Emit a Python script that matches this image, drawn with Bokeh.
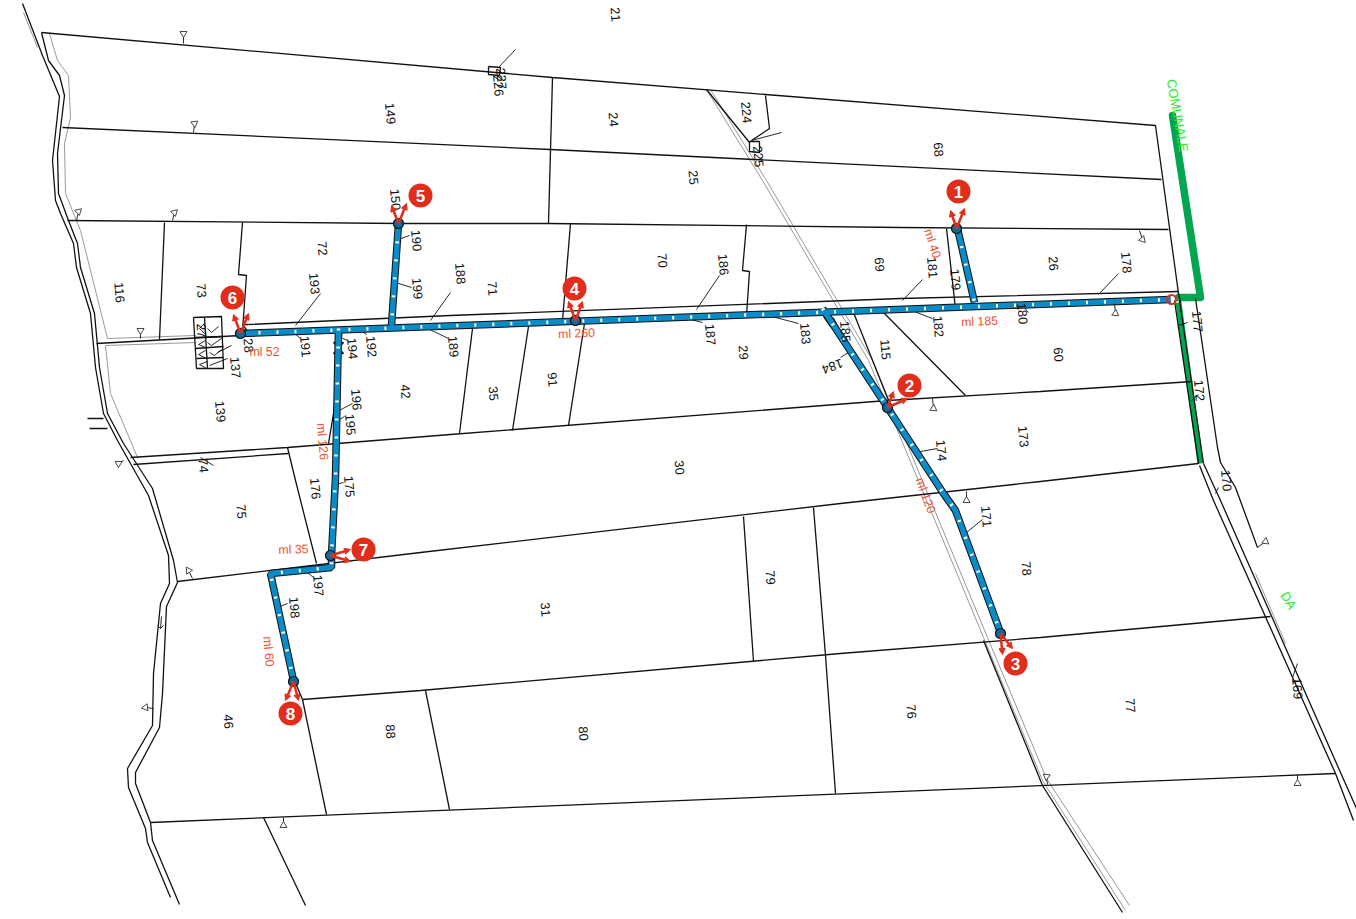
import math
from bokeh.plotting import figure
from bokeh.models import Range1d, Arrow, NormalHead
from bokeh.core.properties import value
from bokeh.embed import file_html
from bokeh.resources import INLINE

# ---- parcel boundaries (map coordinates) ----
parcel_lines = [
    [(41,32),(552,77),(765,94),(1155,125),(1178,293),(1180,302)],
    [(62,127),(550,149),(1161,179)],
    [(67,220),(399,223),(548,223),(900,227),(1168,229)],
    [(248,324),(450,315),(900,298),(1178,291)],
    [(248,332),(242,324),(248,324)],
    [(96,343),(240,335)],
    [(130,457),(287,447),(450,434),(887,400),(1040,391),(1192,381)],
    [(133,464),(288,453)],
    [(287,447),(295,480),(316,563)],
    [(177,581),(420,552),(840,503),(1040,481),(1198,463)],
    [(302,699),(420,690),(840,653),(1040,637),(1270,616)],
    [(150,822),(1335,773)],
    [(552,77),(548,223)],
    [(743,516),(753,661)],
    [(813,507),(825,655),(835,793)],
    [(425,690),(449,809)],
    [(302,699),(326,814)],
    [(294,680),(302,699)],
    [(263,817),(305,905)],
    [(472,328),(459,433)],
    [(528,326),(512,430)],
    [(584,323),(568,425)],
    [(570,223),(562,320)],
    [(746,224),(742,270),(749,271),(746,315)],
    [(853,312),(888,400)],
    [(883,312),(965,395)],
    [(946,228),(955,308)],
    [(164,222),(159,339)],
    [(242,222),(238,274),(246,275),(242,330)],
    [(393,317),(393,330)],
    [(342,327),(333,413),(328,443)],
    [(983,640),(1042,785),(1122,912)],
    [(706,89),(749,142)],
    [(765,95),(769,128),(751,140)],
    [(1174,300),(1198,463)],
    [(1179,300),(1203,463)],
    [(1199,465),(1213,500),(1335,773),(1353,820)],
    [(1203,463),(1220,500),(1340,772),(1356,808)],
    [(1195,298),(1217,447),(1220,462),(1235,487),(1257,547)],
    [(22,3),(42,55),(59,96),(52,160),(55,200),(60,213),(73,243),(76,267),(90,313),(95,367),(103,413),(117,440),(148,495),(168,555),(169,583),(160,603),(153,673),(152,725),(127,768),(128,787),(145,828),(147,842),(170,897)],
    [(41,32),(48,60),(59,75),(64,95),(57,153),(58,193),(68,220),(77,243),(80,267),(94,313),(99,367),(107,413),(123,443),(152,488),(173,560),(177,582),(166,606),(162,693),(159,727),(135,772),(135,783),(150,822),(152,840),(179,904)],
    [(193,317),(221,316),(223,368),(196,368),(193,317)],
    [(194,337),(222,336)],
    [(195,348),(223,346)],
    [(196,358),(223,357)],
    [(204,317),(207,368)],
    [(488,66),(500,67),(499,75),(488,74),(488,66)],
    [(749,141),(759,141),(759,152),(749,151),(749,141)],
    [(333,342),(343,342),(333,353),(343,353),(333,342)],
    [(823,316),(829,325),(838,327),(833,318),(823,316)],
    [(87,418),(103,418)],
    [(89,428),(107,428)],
]
# ---- numbered leader ticks ----
leader_lines = [
    [(320,293),(295,325)],[(395,282),(411,287)],[(398,239),(409,235)],[(450,292),(430,320)],
    [(293,332),(300,338)],[(360,330),(366,334)],[(423,326),(448,338)],[(333,413),(352,403)],
    [(336,421),(344,416)],[(340,337),(347,340)],[(217,352),(231,345)],[(209,365),(227,358)],
    [(719,275),(696,309)],[(678,316),(702,322)],[(756,312),(798,323)],[(840,357),(848,352)],
    [(922,279),(902,300)],[(903,307),(932,318)],[(1118,273),(1098,294)],[(1020,303),(1028,312)],
    [(1178,325),(1187,322)],[(1191,400),(1198,394)],[(1215,493),(1218,487)],[(920,451),(937,448)],
    [(966,532),(982,519)],[(335,484),(343,482)],[(302,568),(313,577)],[(277,607),(287,603)],
    [(1292,677),(1297,663)],[(1293,680),(1301,681)],[(751,140),(781,132)],[(498,67),(515,49)],
    [(200,457),(213,465)],[(161,616),(160,628)],[(158,626),(160,628),(163,625)],
    [(204,323),(199,328),(204,333)],[(205,340),(198,344),(205,347)],
    [(205,350),(198,354),(206,358)],[(207,361),(199,364),(206,368)],
    [(207,328),(211,332),(218,326)],[(207,342),(211,345),(221,338)],[(209,352),(214,355),(221,349)],
]
gray_lines = [
    [(706,89),(762,180),(868,360),(983,637),(1042,780),(1125,910)],
    [(710,89),(766,180),(872,360),(987,637),(1046,778),(1129,905)],
    [(49,33),(57,60),(68,75),(70,117),(64,143),(65,193),(80,230),(107,338),(195,335)],
    [(195,342),(105,345),(110,393),(137,457)],
    [(23,12),(37,47)],
    [(1255,573),(1285,643)],
]
blue_lines = [
    [(240,333),(1170,299)],
    [(957,228),(974,302)],
    [(398,223),(391,325)],
    [(338,328),(335,477),(331,555),(331,567),(270,573),(293,680)],
    [(822,308),(887,407),(943,493),(955,510),(1000,632)],
]
green_thick = [[(1172,115),(1200,297),(1178,297)]]
green_road = [[(1178,302),(1200,463)]]

# ---- boundary marks ----
mark_x = [183,194,78,174,140,118,188,145,283,933,966,1115,1142,1046,1297,1265]
mark_y = [33,123,211,212,330,463,570,707,825,408,500,313,239,776,783,541]
stem_x = [183,193,76,172,140,123,192,153,283,932,966,1114,1139,1047,1297,1257]
stem_y = [43,132,220,220,338,460,578,708,817,398,491,303,230,784,774,547]

# ---- texts ----
parcel_labels = ["21","149","24","224","225","68","25","150","190","72","116","73","193","199","188","71","70","186","69","181","179","26","178","177","180","182","187","183","185","115","29","60","28","191","194","192","189","137","42","35","91","139","196","195","74","172","173","174","30","176","175","75","171","170","78","79","197","31","198","77","169","76","46","88","80","27","226","227"]
parcel_x = [615,390,613,746,758,938,693,395,416,322,119,201,314,417,460,492,662,723,879,932,955,1053,1126,1197,1022,938,710,805,845,885,743,1058,248,305,352,371,453,235,405,493,552,220,356,350,203,1199,1023,941,679,315,349,241,986,1226,1026,770,318,545,294,1130,1297,911,228,390,583,201,498,501]
parcel_y = [14,113,119,112,156,149,177,199,240,248,292,290,283,288,273,288,260,264,264,267,279,263,262,321,313,326,334,333,331,349,352,354,345,346,348,346,346,367,391,393,379,411,399,424,465,390,436,450,467,488,486,511,516,480,568,577,585,609,607,705,688,711,721,731,733,330,85,78]
rev_label = ["184"]; rev_x = [832]; rev_y = [366]

ml_text = ["ml 52","ml 185","ml 260","ml 35","ml 40","ml 126","ml 120","ml 60"]
ml_x = [264,979,576,293,932,322,925,268]
ml_y = [351,321,333,549,243,441,495,651]
ml_deg = [0,2,2,2,-72,-85,-70,-85]

badge_text = ["1","2","3","4","5","6","7","8"]
badge_x = [958,909,1015,574,420,232,363,290]
badge_y = [191,385,663,288,195,297,549,713]
node_x = [956,887,1000,575,398,240,330,293]
node_y = [228,407,633,320,223,333,555,681]
tip1_x = [950,893,1002,568,391,233,350,285]
tip1_y = [210,391,654,301,205,314,549,700]
tip2_x = [964,907,1012,582,406,248,350,298]
tip2_y = [208,398,648,301,203,313,561,700]

BLACK = "#111111"
RED = "#E12D1C"
ORANGE = "#F2512F"
BLUE = "#0A8CC8"
GREEN = "#00A650"

p = figure(width=1356, height=919, x_range=Range1d(0,1356), y_range=Range1d(919,0),
           output_backend="svg", toolbar_location=None, min_border=0)
p.axis.visible = False
p.grid.visible = False
p.outline_line_color = None

def xs(paths): return [[a[0] for a in q] for q in paths]
def ys(paths): return [[a[1] for a in q] for q in paths]

p.multi_line(xs(gray_lines), ys(gray_lines), line_color="#999999", line_width=1)
p.multi_line(xs(green_road), ys(green_road), line_color=GREEN, line_width=6)
p.multi_line(xs(green_thick), ys(green_thick), line_color=GREEN, line_width=7.5, line_join="round", line_cap="round")
p.multi_line(xs(parcel_lines), ys(parcel_lines), line_color=BLACK, line_width=1.3)
p.multi_line(xs(leader_lines), ys(leader_lines), line_color=BLACK, line_width=0.9)

p.multi_line(xs(blue_lines), ys(blue_lines), line_color=BLACK, line_width=7.5)
p.multi_line(xs(blue_lines), ys(blue_lines), line_color=BLUE, line_width=5.5)
p.multi_line(xs(blue_lines), ys(blue_lines), line_color="white", line_width=3.5, line_dash="2 16")

p.segment(mark_x, mark_y, stem_x, stem_y, line_color=BLACK, line_width=0.9)
mark_deg = [math.degrees(math.atan2(sx-mx, -(sy-my))) for mx,my,sx,sy in zip(mark_x,mark_y,stem_x,stem_y)]
p.scatter(mark_x, mark_y, marker="triangle", size=7, angle=mark_deg, angle_units="deg",
          fill_color="white", line_color="#333333", line_width=0.9)

p.text(parcel_x, parcel_y, text=parcel_labels, angle=-85, angle_units="deg",
       text_font=value("Liberation Sans"), text_font_size="12.8px", text_color=BLACK,
       text_align="center", text_baseline="middle")
p.text(rev_x, rev_y, text=rev_label, angle=200, angle_units="deg",
       text_font=value("Liberation Sans"), text_font_size="12.8px", text_color=BLACK,
       text_align="center", text_baseline="middle")
p.text(ml_x, ml_y, text=ml_text, angle=ml_deg, angle_units="deg",
       text_font=value("Liberation Sans"), text_font_size="12.3px", text_color=ORANGE,
       text_align="center", text_baseline="middle")
p.text([1177], [115], text=["COMUNALE"], angle=-80, angle_units="deg",
       text_font=value("Liberation Sans"), text_font_size="13px", text_color="#22EE22",
       text_align="center", text_baseline="middle")
p.text([1288], [600], text=["DA"], angle=-60, angle_units="deg",
       text_font=value("Liberation Sans"), text_font_size="13px", text_color="#22EE22",
       text_align="center", text_baseline="middle")

p.circle(node_x, node_y, radius=5, radius_units="screen", fill_color="#0A6C9C", line_color=BLACK, line_width=1.2)
p.circle([1171], [299], radius=4.5, radius_units="screen", fill_color=None, line_color=RED, line_width=2)

for i in range(len(node_x)):
    for tx, ty in ((tip1_x[i], tip1_y[i]), (tip2_x[i], tip2_y[i])):
        p.add_layout(Arrow(end=NormalHead(size=6, fill_color=RED, line_color=RED, line_width=1),
                           x_start=node_x[i], y_start=node_y[i], x_end=tx, y_end=ty,
                           line_color=RED, line_width=2.5))

p.circle(badge_x, badge_y, radius=12, radius_units="screen", fill_color=RED, line_color=None)
p.text(badge_x, badge_y, text=badge_text, text_font=value("Liberation Sans"), text_font_style="bold",
       text_font_size="17px", text_color="white", text_align="center", text_baseline="middle")

open("out.html", "w").write(file_html(p, INLINE))
